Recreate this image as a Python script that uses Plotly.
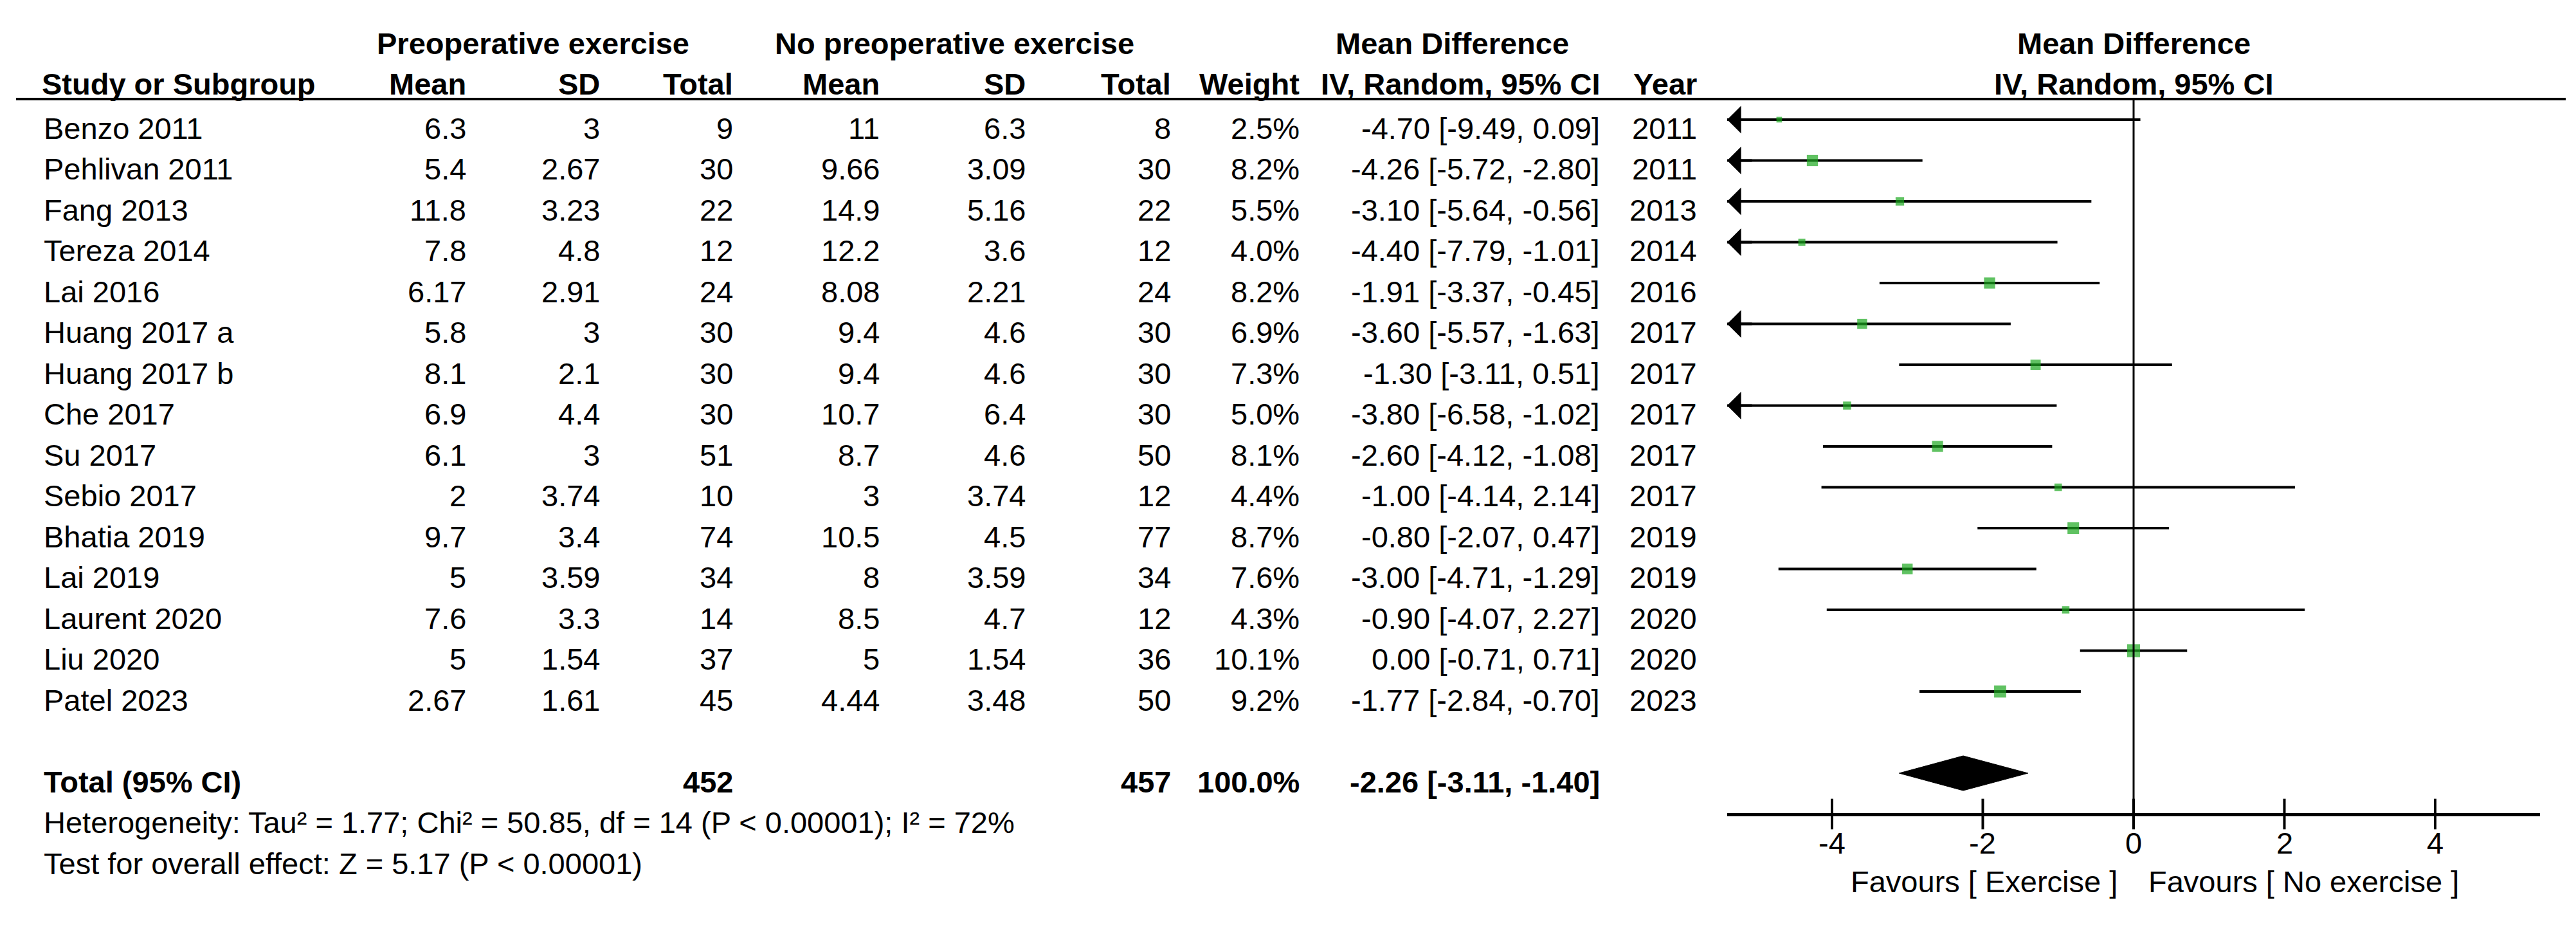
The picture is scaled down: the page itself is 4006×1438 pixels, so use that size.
import plotly.graph_objects as go

# ---- data ----
studies = ["Benzo 2011", "Pehlivan 2011", "Fang 2013", "Tereza 2014", "Lai 2016",
           "Huang 2017 a", "Huang 2017 b", "Che 2017", "Su 2017", "Sebio 2017",
           "Bhatia 2019", "Lai 2019", "Laurent 2020", "Liu 2020", "Patel 2023"]
exp_mean = [6.3, 5.4, 11.8, 7.8, 6.17, 5.8, 8.1, 6.9, 6.1, 2, 9.7, 5, 7.6, 5, 2.67]
exp_sd = [3, 2.67, 3.23, 4.8, 2.91, 3, 2.1, 4.4, 3, 3.74, 3.4, 3.59, 3.3, 1.54, 1.61]
exp_n = [9, 30, 22, 12, 24, 30, 30, 30, 51, 10, 74, 34, 14, 37, 45]
ctl_mean = [11, 9.66, 14.9, 12.2, 8.08, 9.4, 9.4, 10.7, 8.7, 3, 10.5, 8, 8.5, 5, 4.44]
ctl_sd = [6.3, 3.09, 5.16, 3.6, 2.21, 4.6, 4.6, 6.4, 4.6, 3.74, 4.5, 3.59, 4.7, 1.54, 3.48]
ctl_n = [8, 30, 22, 12, 24, 30, 30, 30, 50, 12, 77, 34, 12, 36, 50]
weight = [2.5, 8.2, 5.5, 4.0, 8.2, 6.9, 7.3, 5.0, 8.1, 4.4, 8.7, 7.6, 4.3, 10.1, 9.2]
md = [-4.70, -4.26, -3.10, -4.40, -1.91, -3.60, -1.30, -3.80, -2.60, -1.00,
      -0.80, -3.00, -0.90, 0.00, -1.77]
ci_lo = [-9.49, -5.72, -5.64, -7.79, -3.37, -5.57, -3.11, -6.58, -4.12, -4.14,
         -2.07, -4.71, -4.07, -0.71, -2.84]
ci_hi = [0.09, -2.80, -0.56, -1.01, -0.45, -1.63, 0.51, -1.02, -1.08, 2.14,
         0.47, -1.29, 2.27, 0.71, -0.70]
years = [2011, 2011, 2013, 2014, 2016, 2017, 2017, 2017, 2017, 2017,
         2019, 2019, 2020, 2020, 2023]

pooled = (-2.26, -3.11, -1.40)
heterogeneity = "Heterogeneity: Tau² = 1.77; Chi² = 50.85, df = 14 (P &lt; 0.00001); I² = 72%"
overall = "Test for overall effect: Z = 5.17 (P &lt; 0.00001)"
tick_vals = [-4, -2, 0, 2, 4]

# ---- layout constants (pixels) ----
W, H = 4006, 1438
FONT = "Liberation Sans, Arial, sans-serif"
FS = 47
GREEN = "#1ca81f"
ROW0, STEP = 178, 63.5
TEXT_DY = 13
XMIN, XMAX = -5.39, 5.39
HEAD_Y = 146
AXIS_Y = ROW0 + 17 * STEP
col_right = [719, 927, 1134, 1362, 1589, 1815, 2015, 2482, 2633]


def row_y(i):
    return ROW0 + i * STEP


fig = go.Figure()

# confidence interval lines, clipped to the axis
xs, ys = [], []
for i in range(len(studies)):
    xs += [max(ci_lo[i], XMIN), min(ci_hi[i], XMAX), None]
    ys += [row_y(i), row_y(i), None]
fig.add_trace(go.Scatter(x=xs, y=ys, mode="lines",
                         line=dict(color="black", width=4), hoverinfo="skip"))

# study markers sized by weight
fig.add_trace(go.Scatter(
    x=md, y=[row_y(i) for i in range(len(studies))], mode="markers",
    marker=dict(symbol="square", size=[5 + 1.5 * w for w in weight], color=GREEN,
                line=dict(width=0)),
    hoverinfo="skip"))

# pooled diamond
r = row_y(16)
fig.add_trace(go.Scatter(
    x=[pooled[1], pooled[0], pooled[2], pooled[0], pooled[1]],
    y=[r, r - 27, r, r + 27, r], mode="lines", fill="toself",
    fillcolor="black", line=dict(color="black", width=1), hoverinfo="skip"))

# tick marks crossing the axis line
fig.add_trace(go.Scatter(
    x=tick_vals, y=[AXIS_Y] * len(tick_vals), mode="markers",
    marker=dict(symbol="line-ns", size=34, line=dict(color="black", width=4)),
    hoverinfo="skip"))

annotations = []


def txt(x, y, s, anchor="right", bold=False, xref="paper"):
    annotations.append(dict(
        x=x / W if xref == "paper" else x, y=y, xref=xref, yref="y",
        text=f"<b>{s}</b>" if bold else s, showarrow=False,
        xanchor=anchor, yanchor="middle",
        font=dict(family=FONT, size=FS, color="black")))


# headers
txt(821, 59, "Preoperative exercise", "center", True)
txt(1476, 59, "No preoperative exercise", "center", True)
txt(2250, 59, "Mean Difference", "center", True)
txt(0, 59, "Mean Difference", "center", True, xref="x")
txt(55, 122, "Study or Subgroup", "left", True)
for x, s in zip(col_right, ["Mean", "SD", "Total", "Mean", "SD", "Total",
                            "Weight", "IV, Random, 95% CI", "Year"]):
    txt(x, 122, s, "right", True)
txt(0, 122, "IV, Random, 95% CI", "center", True, xref="x")

# study rows
for i in range(len(studies)):
    y = row_y(i) + TEXT_DY
    cells = [f"{exp_mean[i]:g}", f"{exp_sd[i]:g}", str(exp_n[i]),
             f"{ctl_mean[i]:g}", f"{ctl_sd[i]:g}", str(ctl_n[i]),
             f"{weight[i]:.1f}%",
             f"{md[i]:.2f} [{ci_lo[i]:.2f}, {ci_hi[i]:.2f}]", str(years[i])]
    txt(58, y, studies[i], "left")
    for x, s in zip(col_right, cells):
        txt(x, y, s)
    if ci_lo[i] < XMIN:
        annotations.append(dict(
            x=XMIN, y=row_y(i), xref="x", yref="y", ax=40, ay=0, text="",
            showarrow=True, arrowhead=1, arrowsize=1.8, arrowwidth=4,
            arrowcolor="black", standoff=0))

# total row
y = row_y(16) + TEXT_DY
txt(58, y, "Total (95% CI)", "left", True)
txt(col_right[2], y, str(sum(exp_n)), bold=True)
txt(col_right[5], y, str(sum(ctl_n)), bold=True)
txt(col_right[6], y, "100.0%", bold=True)
txt(col_right[7], y, f"{pooled[0]:.2f} [{pooled[1]:.2f}, {pooled[2]:.2f}]", bold=True)
txt(58, row_y(17) + TEXT_DY, heterogeneity, "left")
txt(58, row_y(18) + TEXT_DY, overall, "left")

# axis tick labels and favours labels
for t in tick_vals:
    txt(t, 1302, str(t), "center", xref="x")
txt(-0.2, 1362, "Favours [ Exercise ]", "right", xref="x")
txt(0.18, 1362, "Favours [ No exercise ]", "left", xref="x")

shapes = [
    dict(type="line", xref="paper", yref="y", x0=17 / W, x1=3982 / W,
         y0=HEAD_Y, y1=HEAD_Y, line=dict(color="black", width=4)),
    dict(type="line", xref="x", yref="y", x0=0, x1=0, y0=HEAD_Y, y1=AXIS_Y,
         line=dict(color="black", width=3)),
]

fig.update_layout(
    width=W, height=H, margin=dict(l=0, r=0, t=0, b=0),
    paper_bgcolor="white", plot_bgcolor="white", showlegend=False,
    annotations=annotations, shapes=shapes,
    xaxis=dict(domain=[2678 / W, 3942 / W], range=[XMIN, XMAX],
               showline=True, linecolor="black", linewidth=5,
               ticks="", showticklabels=False,
               showgrid=False, zeroline=False, anchor="free",
               position=1 - AXIS_Y / H, fixedrange=True),
    yaxis=dict(domain=[0, 1], range=[H, 0], visible=False, fixedrange=True),
)

fig.write_html("out.html")
